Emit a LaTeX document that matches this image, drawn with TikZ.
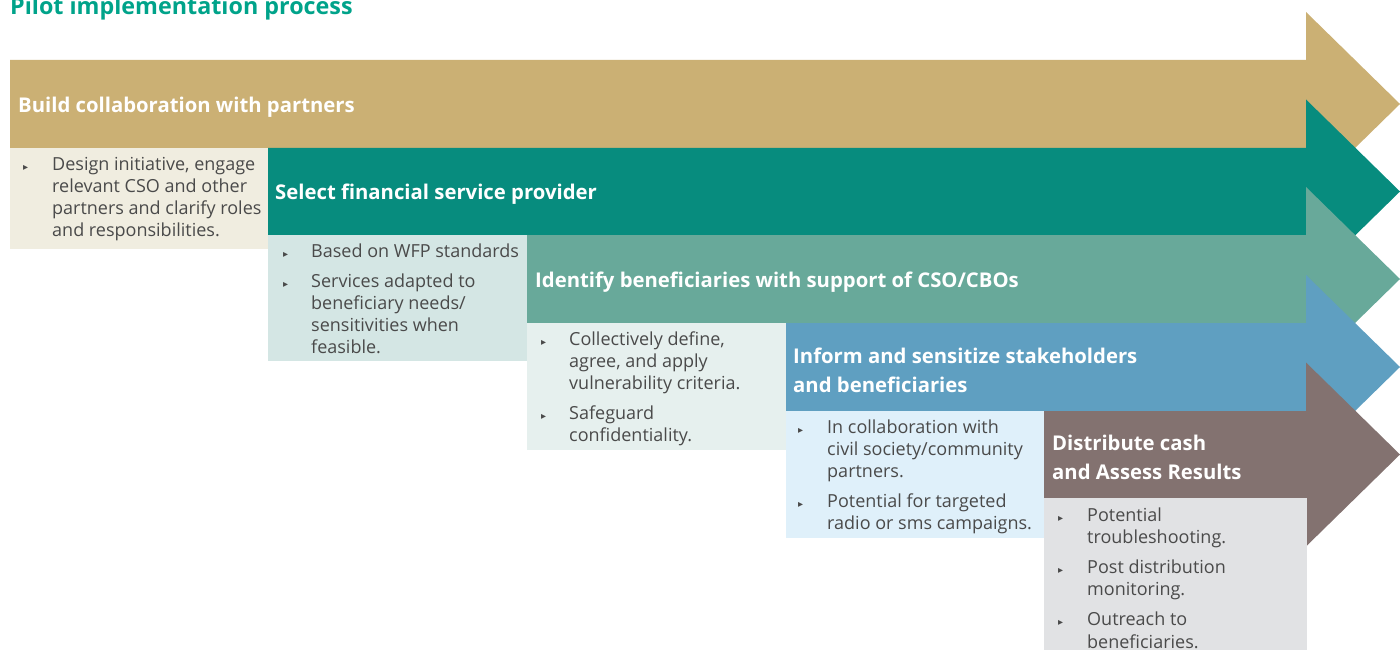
\documentclass[tikz,border=0pt]{standalone}
\usepackage{fontspec}
\setmainfont{Open Sans}
\newfontfamily\dejavu{DejaVu Sans}
\definecolor{tanc}{HTML}{CBB074}
\definecolor{tealc}{HTML}{078C7E}
\definecolor{greenc}{HTML}{68A99A}
\definecolor{bluec}{HTML}{5F9FC1}
\definecolor{brownc}{HTML}{837270}
\definecolor{cardA}{HTML}{F0EDE0}
\definecolor{cardB}{HTML}{D4E6E4}
\definecolor{cardC}{HTML}{E6F0EE}
\definecolor{cardD}{HTML}{DFF0FA}
\definecolor{cardE}{HTML}{E1E2E4}
\definecolor{bodytext}{HTML}{4A4A4A}
\definecolor{titlec}{HTML}{00A38A}
\newcommand{\bandshape}[4]{\fill[#1] (#2,#3) -- (1306,#3) -- (1306,{(#3+#4)/2-92}) -- (1400,{(#3+#4)/2}) -- (1306,{(#3+#4)/2+92}) -- (1306,#4) -- (#2,#4) -- cycle;}
\newcommand{\bul}{{\dejavu\fontsize{10}{10}\selectfont ▸}}
\begin{document}
\begin{tikzpicture}[x=1pt,y=-1pt,
  bandtitle/.style={anchor=west, text=white, font=\fontsize{20.3}{29}\selectfont\bfseries, align=left, inner sep=0pt},
  cardtext/.style={anchor=base west, inner sep=0pt, text=bodytext, font=\fontsize{18}{22.2}\selectfont}]
\useasboundingbox (0,0) rectangle (1400,650);
\node[anchor=base west, inner sep=0pt, text=titlec, font=\fontsize{23.3}{26}\selectfont\bfseries] (title) at (10,15) {Pilot implementation process};
% bands
\bandshape{tanc}{10}{60}{148}
\fill[cardA] (10,148) rectangle (268,249);
\bandshape{tealc}{268}{148}{235}
\fill[cardB] (268,235) rectangle (527,361);
\bandshape{greenc}{527}{235}{323}
\fill[cardC] (527,323) rectangle (786,450);
\bandshape{bluec}{786}{323}{411}
\fill[cardD] (786,411) rectangle (1044,538);
\bandshape{brownc}{1044}{411}{498}
\fill[cardE] (1044,498) rectangle (1307,650);
% titles
\node[bandtitle] (t1) at (18,107) {Build collaboration with partners};
\node[bandtitle] (t2) at (275,194) {Select financial service provider};
\node[bandtitle] (t3) at (535,282) {Identify beneficiaries with support of CSO/CBOs};
\node[bandtitle] (t4) at (793,370) {Inform and sensitize stakeholders\\and beneficiaries};
\node[bandtitle] (t5) at (1052,457) {Distribute cash\\and Assess Results};
% card texts
\node[cardtext] (c1) at (23,170) {\begin{tabular}[t]{@{}p{29pt}@{}l@{}}
\bul & Design initiative, engage\\
 & relevant CSO and other\\
 & partners and clarify roles\\
 & and responsibilities.
\end{tabular}};
\node[cardtext] (c2) at (283,257) {\begin{tabular}[t]{@{}p{28pt}@{}l@{}}
\bul & Based on WFP standards\\[8pt]
\bul & Services adapted to\\
 & beneficiary needs/\\
 & sensitivities when\\
 & feasible.
\end{tabular}};
\node[cardtext] (c3) at (541,345) {\begin{tabular}[t]{@{}p{28pt}@{}l@{}}
\bul & Collectively define,\\
 & agree, and apply\\
 & vulnerability criteria.\\[8pt]
\bul & Safeguard\\
 & confidentiality.
\end{tabular}};
\node[cardtext] (c4) at (798,433) {\begin{tabular}[t]{@{}p{29pt}@{}l@{}}
\bul & In collaboration with\\
 & civil society/community\\
 & partners.\\[8pt]
\bul & Potential for targeted\\
 & radio or sms campaigns.
\end{tabular}};
\node[cardtext] (c5) at (1058,521) {\begin{tabular}[t]{@{}p{29pt}@{}l@{}}
\bul & Potential\\
 & troubleshooting.\\[8pt]
\bul & Post distribution\\
 & monitoring.\\[8pt]
\bul & Outreach to\\
 & beneficiaries.
\end{tabular}};
\end{tikzpicture}
\end{document}
